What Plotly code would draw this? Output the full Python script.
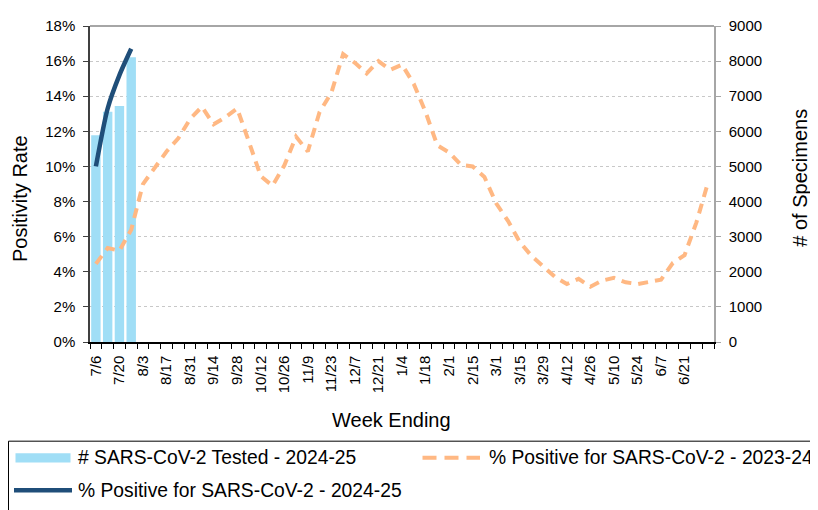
import plotly.graph_objects as go

# ---------------- data ----------------
weeks = ["7/6", "7/13", "7/20", "7/27", "8/3", "8/10", "8/17", "8/24", "8/31",
         "9/7", "9/14", "9/21", "9/28", "10/5", "10/12", "10/19", "10/26",
         "11/2", "11/9", "11/16", "11/23", "11/30", "12/7", "12/14", "12/21",
         "12/28", "1/4", "1/11", "1/18", "1/25", "2/1", "2/8", "2/15", "2/22",
         "3/1", "3/8", "3/15", "3/22", "3/29", "4/5", "4/12", "4/19", "4/26",
         "5/3", "5/10", "5/17", "5/24", "5/31", "6/7", "6/14", "6/21", "6/28",
         "7/5"]
tick_labels = weeks[0:51:2]

tested_2425 = [5890, 6560, 6720, 8110]
pos_2425 = [10.0, 13.3, 15.2, 16.7]
pos_2324 = [4.45, 5.35, 5.2, 6.4, 9.0, 9.9, 10.85, 11.6, 12.7, 13.4, 12.4,
            12.8, 13.3, 11.4, 9.45, 8.9, 10.05, 11.7, 10.85, 13.1, 14.2, 16.4,
            15.9, 15.3, 16.0, 15.5, 15.8, 14.7, 13.1, 11.2, 10.8, 10.1, 10.0,
            9.4, 7.9, 6.9, 5.7, 4.9, 4.3, 3.7, 3.3, 3.6, 3.15, 3.5, 3.65, 3.4,
            3.3, 3.4, 3.55, 4.5, 4.95, 6.8, 9.1]

name_bar = "# SARS-CoV-2 Tested - 2024-25"
name_prev = "% Positive for SARS-CoV-2 - 2023-24"
name_cur = "% Positive for SARS-CoV-2 - 2024-25"

x_all = list(range(len(weeks)))

# ---------------- style ----------------
OFF = 8  # page body margin
W, H = 818 - OFF, 510 - OFF
# plot area in page pixels: x 90..714, y 17..342
ML, MT = 90 - OFF, 17 - OFF
MR = W - (714 - OFF)
MB = H - (342 - OFF)
PW, PH = W - ML - MR, H - MT - MB
FONT = "Arial, Liberation Sans, sans-serif"
BAR_C = "#A0DEF6"
PREV_C = "#FFB883"
CUR_C = "#1F4E79"


def px(xp):
    """page x pixel -> paper coordinate"""
    return (xp - OFF - ML) / PW


def py(yp):
    """page y pixel -> paper coordinate"""
    return (H - MB - (yp - OFF)) / PH


fig = go.Figure()
fig.add_trace(go.Bar(x=x_all[:len(tested_2425)], y=tested_2425, name=name_bar,
                     marker=dict(color=BAR_C, line=dict(width=0)),
                     xaxis="x", yaxis="y", showlegend=False))
fig.add_trace(go.Scatter(x=x_all[:len(pos_2324)], y=pos_2324, name=name_prev,
                         mode="lines", line=dict(color=PREV_C, width=4, dash="10px,7px"),
                         xaxis="x", yaxis="y2", showlegend=False))
fig.add_trace(go.Scatter(x=x_all[:len(pos_2425)], y=pos_2425, name=name_cur,
                         mode="lines", line=dict(color=CUR_C, width=4.5, shape="spline", smoothing=0.7),
                         xaxis="x", yaxis="y2", showlegend=False))

tickfont = dict(family=FONT, size=15, color="#000000")

fig.update_layout(
    width=W, height=H,
    margin=dict(l=ML, r=MR, t=MT, b=MB, pad=0),
    plot_bgcolor="white", paper_bgcolor="white",
    bargap=0.2,
    font=dict(family=FONT, color="#000000"),
    xaxis=dict(range=[-0.5, len(weeks) - 0.5], tickmode="array",
               tickvals=[weeks.index(t) for t in tick_labels], ticktext=tick_labels,
               tickangle=-90, ticks="", tickfont=tickfont, ticklabelstandoff=6,
               showgrid=False, zeroline=False, showline=True, linecolor="#000000", linewidth=1.5,
               minor=dict(tick0=-0.5, dtick=1, ticks="outside", ticklen=5, tickwidth=1,
                          tickcolor="#000000", showgrid=False)),
    yaxis=dict(range=[0, 9000], dtick=1000, side="right", tickfont=tickfont,
               ticks="outside", ticklen=5, tickcolor="#A6A6A6", ticklabelstandoff=5,
               showline=True, linecolor="#A6A6A6", linewidth=1.5,
               showgrid=True, gridcolor="#C8C8C8", griddash="dot", gridwidth=1,
               zeroline=False),
    yaxis2=dict(range=[0, 18], dtick=2, ticksuffix="%", side="left", overlaying="y",
                tickfont=tickfont, ticks="outside", ticklen=5, tickcolor="#404040",
                ticklabelstandoff=5, showline=True, linecolor="#404040", linewidth=1.5,
                showgrid=False, zeroline=False),
)

shapes = [
    # plot top border
    dict(type="line", xref="paper", yref="paper", x0=0, x1=1, y0=1, y1=1,
         line=dict(color="#A6A6A6", width=2)),
    # legend box
    dict(type="rect", xref="paper", yref="paper", x0=px(8.5), x1=px(840), y0=py(444), y1=py(530),
         line=dict(color="#000000", width=1), fillcolor="rgba(0,0,0,0)"),
    # legend swatches
    dict(type="rect", xref="paper", yref="paper", x0=px(15.5), x1=px(70.5), y0=py(466), y1=py(456.5),
         line=dict(width=0), fillcolor=BAR_C),
    dict(type="line", xref="paper", yref="paper", x0=px(422.5), x1=px(480), y0=py(461), y1=py(461),
         line=dict(color=PREV_C, width=4, dash="14px,8px")),
    dict(type="line", xref="paper", yref="paper", x0=px(14), x1=px(72), y0=py(494.5), y1=py(494.5),
         line=dict(color=CUR_C, width=4.5)),
]
fig.update_layout(shapes=shapes)

title_font = dict(family=FONT, size=20, color="#000000")
legend_font = dict(family=FONT, size=19.3, color="#000000")
annotations = [
    dict(text="Week Ending", x=px(391), y=py(422), xref="paper", yref="paper",
         showarrow=False, xanchor="center", yanchor="middle", font=title_font),
    dict(text="Positivity Rate", x=px(20), y=py(195), xref="paper", yref="paper",
         showarrow=False, xanchor="center", yanchor="middle", textangle=-90, font=title_font),
    dict(text="# of Specimens", x=px(800), y=py(173), xref="paper", yref="paper",
         showarrow=False, xanchor="center", yanchor="middle", textangle=-90, font=title_font),
    dict(text=name_bar, x=px(76), y=py(461), xref="paper", yref="paper",
         showarrow=False, xanchor="left", yanchor="middle", font=legend_font),
    dict(text=name_prev, x=px(486.5), y=py(461), xref="paper", yref="paper",
         showarrow=False, xanchor="left", yanchor="middle", font=legend_font),
    dict(text=name_cur, x=px(76), y=py(494.5), xref="paper", yref="paper",
         showarrow=False, xanchor="left", yanchor="middle", font=legend_font),
]
fig.update_layout(annotations=annotations)

fig.write_html("out.html")
